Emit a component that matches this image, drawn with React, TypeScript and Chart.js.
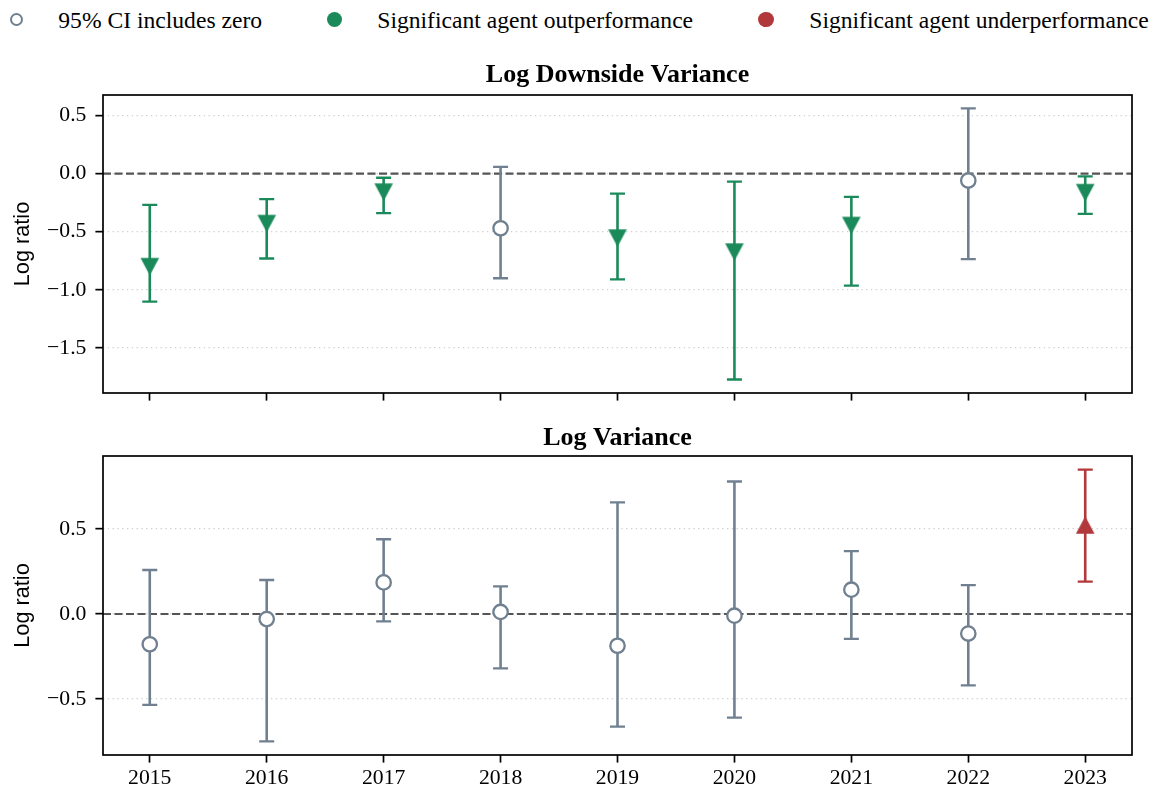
import React, { useEffect, useRef } from "react";
import { Chart, registerables } from "chart.js";

Chart.register(...registerables);

// ---------- data ----------
const years = [2015, 2016, 2017, 2018, 2019, 2020, 2021, 2022, 2023];
const yearLabels = ["2015", "2016", "2017", "2018", "2019", "2020", "2021", "2022", "2023"];

const downsideEstimate = [-0.8, -0.43, -0.16, -0.47, -0.555, -0.675, -0.447, -0.06, -0.164];
const downsideLower = [-1.1, -0.73, -0.34, -0.9, -0.91, -1.77, -0.964, -0.735, -0.347];
const downsideUpper = [-0.27, -0.22, -0.036, 0.058, -0.173, -0.07, -0.2, 0.56, -0.024];

const varianceEstimate = [-0.178, -0.03, 0.186, 0.012, -0.187, -0.01, 0.143, -0.115, 0.524];
const varianceLower = [-0.535, -0.75, -0.043, -0.32, -0.663, -0.61, -0.146, -0.42, 0.19];
const varianceUpper = [0.259, 0.2, 0.44, 0.162, 0.657, 0.78, 0.37, 0.17, 0.85];

const downsideTicks = [0.5, 0, -0.5, -1, -1.5];
const downsideTickLabels = ["0.5", "0.0", "\u22120.5", "\u22121.0", "\u22121.5"];
const varianceTicks = [0.5, 0, -0.5];
const varianceTickLabels = ["0.5", "0.0", "\u22120.5"];

const legendLabels = [
  "95% CI includes zero",
  "Significant agent outperformance",
  "Significant agent underperformance",
];

// ---------- style ----------
const NEUTRAL = "#708090";
const GOOD = "#1b8a5a";
const BAD = "#b2393b";
const SERIF = "'Liberation Serif', 'Times New Roman', serif";
const SANS = "'Liberation Sans', Arial, sans-serif";

function makeTriangle(color: string, down: boolean): HTMLCanvasElement {
  const c = document.createElement("canvas");
  c.width = 22;
  c.height = 22;
  const g = c.getContext("2d")!;
  const cx = 11, cy = 11, hw = 9.3, hh = 8.8;
  g.fillStyle = color;
  g.beginPath();
  if (down) {
    g.moveTo(cx - hw, cy - hh);
    g.lineTo(cx + hw, cy - hh);
    g.lineTo(cx, cy + hh);
  } else {
    g.moveTo(cx - hw, cy + hh);
    g.lineTo(cx + hw, cy + hh);
    g.lineTo(cx, cy - hh);
  }
  g.closePath();
  g.fill();
  return c;
}

type PanelProps = {
  title: string;
  est: number[];
  lo: number[];
  hi: number[];
  ticks: number[];
  tickLabels: string[];
  yMin: number;
  yMax: number;
  top: number;
  height: number;
  titlePad: { top: number; bottom: number };
  xAxisHeight: number;
  showXLabels: boolean;
};

function Panel(p: PanelProps) {
  const ref = useRef<HTMLCanvasElement>(null);
  useEffect(() => {
    const status = p.est.map((_, i) => (p.hi[i] < 0 ? "good" : p.lo[i] > 0 ? "bad" : "neutral"));
    const colorOf = (s: string) => (s === "good" ? GOOD : s === "bad" ? BAD : NEUTRAL);
    const triDown = makeTriangle(GOOD, true);
    const triUp = makeTriangle(BAD, false);

    const decor = {
      id: "panelDecor",
      beforeDatasetsDraw(chart: any) {
        const { ctx, chartArea: a, scales } = chart;
        const x = scales.x, y = scales.y;
        ctx.save();
        ctx.beginPath();
        ctx.rect(a.left, a.top, a.right - a.left, a.bottom - a.top);
        ctx.clip();
        const y0 = y.getPixelForValue(0);
        ctx.strokeStyle = "#555555";
        ctx.lineWidth = 2.2;
        ctx.setLineDash([8, 3.5]);
        ctx.beginPath();
        ctx.moveTo(a.left, y0);
        ctx.lineTo(a.right, y0);
        ctx.stroke();
        ctx.setLineDash([]);
        years.forEach((yr, i) => {
          const px = x.getPixelForValue(yr);
          const pl = y.getPixelForValue(p.lo[i]);
          const ph = y.getPixelForValue(p.hi[i]);
          ctx.strokeStyle = colorOf(status[i]);
          ctx.lineWidth = 2.6;
          ctx.beginPath();
          ctx.moveTo(px, pl);
          ctx.lineTo(px, ph);
          ctx.stroke();
          ctx.lineWidth = 2.3;
          ctx.beginPath();
          ctx.moveTo(px - 7.5, pl);
          ctx.lineTo(px + 7.5, pl);
          ctx.moveTo(px - 7.5, ph);
          ctx.lineTo(px + 7.5, ph);
          ctx.stroke();
        });
        ctx.restore();
      },
      afterDatasetsDraw(chart: any) {
        const { ctx, chartArea: a } = chart;
        ctx.save();
        ctx.strokeStyle = "#000";
        ctx.lineWidth = 1.7;
        ctx.strokeRect(a.left, a.top, a.right - a.left, a.bottom - a.top);
        ctx.restore();
      },
    };

    const tickFont = { family: SERIF, size: 21.7 };
    const chart = new Chart(ref.current!, {
      type: "scatter",
      data: {
        datasets: [
          {
            data: years.map((x, i) => ({ x, y: p.est[i] })),
            pointStyle: status.map((s) => (s === "good" ? triDown : s === "bad" ? triUp : "circle")) as any,
            pointRadius: 7.2,
            pointHoverRadius: 7.2,
            pointBorderWidth: status.map((s) => (s === "neutral" ? 2.3 : 0)),
            pointBackgroundColor: status.map((s) => (s === "neutral" ? "#ffffff" : colorOf(s))),
            pointBorderColor: status.map(colorOf),
            showLine: false,
          },
        ],
      },
      options: {
        animation: false,
        responsive: false,
        maintainAspectRatio: false,
        events: [],
        layout: { padding: { left: 0, right: 22, top: 0, bottom: 0 } },
        plugins: {
          legend: { display: false },
          tooltip: { enabled: false },
          title: {
            display: true,
            text: p.title,
            fullSize: false,
            color: "#000",
            font: { family: SERIF, size: 26, weight: "bold", lineHeight: 1.2 },
            padding: p.titlePad,
          },
        },
        scales: {
          x: {
            type: "linear",
            min: 2014.6,
            max: 2023.4,
            bounds: "data",
            afterBuildTicks: (s: any) => {
              s.ticks = years.map((v) => ({ value: v }));
            },
            afterFit: (s: any) => {
              s.height = p.xAxisHeight;
              s.paddingLeft = 0;
              s.paddingRight = 0;
            },
            ticks: {
              display: p.showXLabels,
              autoSkip: false,
              maxRotation: 0,
              padding: 3,
              color: "#000",
              font: tickFont,
              callback: (v: any) => {
                const k = years.indexOf(Number(v));
                return k >= 0 ? yearLabels[k] : "";
              },
            },
            grid: {
              drawOnChartArea: false,
              drawTicks: true,
              tickLength: 7.6,
              tickColor: "#000",
              tickWidth: 1.7,
            },
            border: { display: false },
          },
          y: {
            type: "linear",
            min: p.yMin,
            max: p.yMax,
            bounds: "data",
            afterBuildTicks: (s: any) => {
              s.ticks = p.ticks.map((v) => ({ value: v }));
            },
            afterFit: (s: any) => {
              s.width = 103;
              s.paddingTop = 0;
              s.paddingBottom = 0;
            },
            ticks: {
              autoSkip: false,
              padding: 9,
              color: "#000",
              font: tickFont,
              callback: (v: any) => {
                const k = p.ticks.indexOf(Number(v));
                return k >= 0 ? p.tickLabels[k] : "";
              },
            },
            grid: {
              color: "#cfcfcf",
              lineWidth: 1.3,
              drawTicks: true,
              tickLength: 7.6,
              tickColor: "#000",
              tickWidth: 1.7,
            },
            border: { display: false, dash: [1.3, 3.5] },
            title: {
              display: true,
              text: "Log ratio",
              color: "#000",
              font: { family: SANS, size: 21.7, lineHeight: 1.2 },
              padding: { top: 10, bottom: 0 },
            },
          },
        },
      } as any,
      plugins: [decor],
    });
    return () => chart.destroy();
  }, []);

  return (
    <canvas
      ref={ref}
      width={1154}
      height={p.height}
      style={{ position: "absolute", left: 0, top: p.top, width: 1154, height: p.height }}
    />
  );
}

function LegendItem({ cx, textX, kind, label }: { cx: number; textX: number; kind: string; label: string }) {
  const open = kind === "neutral";
  const d = open ? 13 : 15.6;
  return (
    <>
      <div
        style={{
          position: "absolute",
          left: cx - d / 2,
          top: 19.7 - d / 2,
          width: d,
          height: d,
          boxSizing: "border-box",
          borderRadius: "50%",
          border: open ? `2px solid ${NEUTRAL}` : "none",
          background: open ? "#fff" : kind === "good" ? GOOD : BAD,
        }}
      />
      <span
        style={{
          position: "absolute",
          left: textX,
          top: 7.35,
          fontFamily: SERIF,
          fontSize: 23.6,
          lineHeight: "26px",
          color: "#000",
          whiteSpace: "nowrap",
        }}
      >
        {label}
      </span>
    </>
  );
}

export default function App() {
  return (
    <div
      style={{
        position: "absolute",
        left: 0,
        top: 0,
        width: 1154,
        height: 789,
        background: "#fff",
        overflow: "hidden",
      }}
    >
      <LegendItem cx={16} textX={58.3} kind="neutral" label={legendLabels[0]} />
      <LegendItem cx={334.5} textX={377.3} kind="good" label={legendLabels[1]} />
      <LegendItem cx={766} textX={809.3} kind="bad" label={legendLabels[2]} />
      <Panel
        title="Log Downside Variance"
        est={downsideEstimate}
        lo={downsideLower}
        hi={downsideUpper}
        ticks={downsideTicks}
        tickLabels={downsideTickLabels}
        yMin={-1.886}
        yMax={0.675}
        top={50}
        height={360}
        titlePad={{ top: 10, bottom: 3.8 }}
        xAxisHeight={17}
        showXLabels={false}
      />
      <Panel
        title="Log Variance"
        est={varianceEstimate}
        lo={varianceLower}
        hi={varianceUpper}
        ticks={varianceTicks}
        tickLabels={varianceTickLabels}
        yMin={-0.83}
        yMax={0.93}
        top={410}
        height={379}
        titlePad={{ top: 13.1, bottom: 1.7 }}
        xAxisHeight={34}
        showXLabels={true}
      />
    </div>
  );
}
